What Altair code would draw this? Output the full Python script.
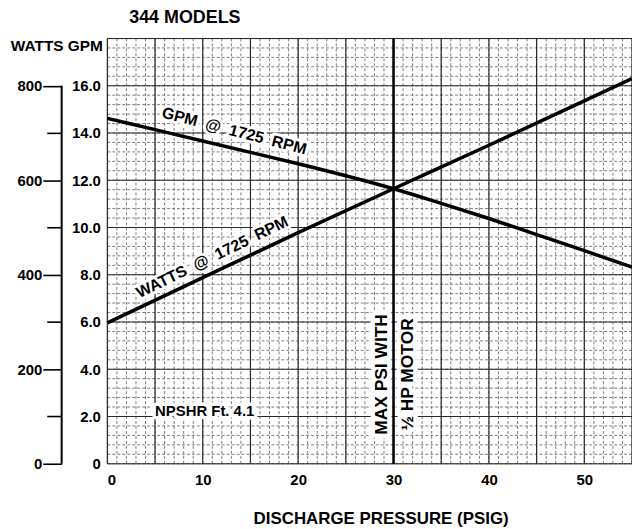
import altair as alt
import pandas as pd

# ---- data ----
gpm_pressure = [0, 5, 10, 15, 20, 25, 30, 35, 40, 45, 50, 55]
gpm_values = [14.62, 14.14, 13.66, 13.18, 12.70, 12.19, 11.64, 11.02, 10.38, 9.70, 9.02, 8.32]

watts_pressure = [0, 10, 20, 30, 40, 50, 55]
watts_values = [298, 394, 489, 582, 674, 768, 815]

max_psi = 30

x_ticks = [0, 10, 20, 30, 40, 50]
gpm_ticks = [0, 2, 4, 6, 8, 10, 12, 14, 16]
watts_major_ticks = [0, 200, 400, 600, 800]
watts_minor_ticks = [100, 300, 500, 700]

minor_x = list(range(0, 56))
major_x = list(range(0, 56, 5))
minor_y = [round(i * 0.4, 1) for i in range(0, 46)]
major_y = list(range(0, 19, 2))

S = "\u00a0\u00a0"
ann_text = ["GPM" + S + "@" + S + "1725" + S + "RPM",
            "WATTS" + S + "@" + S + "1725" + S + "RPM",
            "MAX PSI WITH", "½ HP MOTOR", "NPSHR Ft. 4.1"]
ann_x = [13.3, 11.0, 28.75, 31.55, 10.2]
ann_y = [14.08, 8.74, 3.78, 3.78, 2.23]

FONT = "Liberation Sans"

xs = alt.Scale(domain=[0, 55], nice=False, zero=False)
ys = alt.Scale(domain=[0, 18], nice=False, zero=False)
ws = alt.Scale(domain=[0, 900], nice=False, zero=False)

x_axis = alt.Axis(
    values=x_ticks, ticks=False, domain=False, grid=False,
    labelFont=FONT, labelFontWeight="bold", labelFontSize=15, labelColor="black",
    labelPadding=9,
    title="DISCHARGE PRESSURE (PSIG)", titleFont=FONT, titleFontWeight="bold",
    titleFontSize=17, titleColor="black", titlePadding=23, titleX=275,
)


def X(field):
    return alt.X(field, scale=xs, axis=x_axis)


def vrules(vals, color, width, dash):
    return alt.Chart(pd.DataFrame({"p": vals})).mark_rule(
        color=color, strokeWidth=width, strokeDash=dash
    ).encode(x=X("p:Q"))


def hrules(vals, color, width, dash):
    return alt.Chart(pd.DataFrame({"g": vals})).mark_rule(
        color=color, strokeWidth=width, strokeDash=dash
    ).encode(y=alt.Y("g:Q", scale=ys, axis=None))


minor_v = vrules(minor_x, "#6e6e6e", 0.9, [3, 2])
minor_h = hrules(minor_y, "#6e6e6e", 0.9, [3, 2])
major_v = vrules(major_x, "#2a2a2a", 1.2, [1, 0])
major_h = hrules(major_y, "#2a2a2a", 1.2, [1, 0])

gpm_df = pd.DataFrame({"p": gpm_pressure, "g": gpm_values})
gpm_line = alt.Chart(gpm_df).mark_line(
    color="black", strokeWidth=3.5, interpolate="monotone"
).encode(
    x=X("p:Q"),
    y=alt.Y(
        "g:Q", scale=ys,
        axis=alt.Axis(
            values=gpm_ticks, ticks=False, domain=False, grid=False,
            labelExpr="datum.value == 0 ? '0' : format(datum.value, '.1f')",
            labelFont=FONT, labelFontWeight="bold", labelFontSize=15, labelColor="black",
            labelPadding=7,
            title="WATTS GPM", titleAngle=0, titleAlign="right", titleBaseline="middle",
            titleX=-5, titleY=7, titleFont=FONT, titleFontWeight="bold",
            titleFontSize=15.5, titleColor="black",
        ),
    ),
)

max_rule = alt.Chart(pd.DataFrame({"p": [max_psi]})).mark_rule(
    color="black", strokeWidth=2.5
).encode(x=X("p:Q"))


def annotation(i, angle, size, halo):
    df = pd.DataFrame({"t": [ann_text[i]], "x": [ann_x[i]], "y": [ann_y[i]]})
    base = alt.Chart(df).encode(
        x=X("x:Q"),
        y=alt.Y("y:Q", scale=ys, axis=None),
        text="t:N",
    )
    back = base.mark_text(
        angle=angle, fontSize=size, font=FONT, fontWeight="bold",
        fill="white", stroke="white", strokeWidth=halo, strokeJoin="round",
        align="center", baseline="middle",
    )
    front = base.mark_text(
        angle=angle, fontSize=size, font=FONT, fontWeight="bold", color="black",
        align="center", baseline="middle",
    )
    return [back, front]


texts = []
texts += annotation(0, 14.5, 16, 6)
texts += annotation(1, 334, 16, 6)
texts += annotation(2, 270, 17.5, 9)
texts += annotation(3, 270, 17.5, 9)
texts += annotation(4, 0, 15, 7)

watts_df = pd.DataFrame({"p": watts_pressure, "w": watts_values})
watts_line = alt.Chart(watts_df).mark_line(
    color="black", strokeWidth=3.5, interpolate="monotone"
).encode(
    x=X("p:Q"),
    y=alt.Y(
        "w:Q", scale=ws,
        axis=alt.Axis(
            orient="left", offset=46, values=watts_major_ticks, domain=False, grid=False,
            tickSize=19, tickWidth=1.6, tickColor="black",
            labelFont=FONT, labelFontWeight="bold", labelFontSize=15, labelColor="black",
            labelPadding=1, title=None,
        ),
    ),
)

watts_axis_line = alt.Chart(
    pd.DataFrame({"lo": [watts_major_ticks[0]], "hi": [watts_major_ticks[-1]]})
).mark_rule(color="black", strokeWidth=2).encode(
    x=alt.value(-46),
    y=alt.Y(
        "lo:Q", scale=ws,
        axis=alt.Axis(
            orient="left", offset=46, values=watts_minor_ticks, domain=False, grid=False,
            tickSize=15, tickWidth=1.6, tickColor="black", labels=False, title=None,
        ),
    ),
    y2="hi:Q",
)

chart = alt.layer(
    minor_v, minor_h, major_v, major_h, *texts, max_rule, gpm_line,
    watts_line, watts_axis_line,
).resolve_scale(y="independent").properties(
    width=528,
    height=428,
    padding={"left": 100, "top": 29, "right": 0, "bottom": 64},
    autosize=alt.AutoSizeParams(type="none"),
    title=alt.Title(
        "344 MODELS", anchor="start", frame="group", dx=22, offset=10,
        font=FONT, fontWeight="bold", fontSize=18, color="black",
    ),
).configure_view(stroke=None).configure(background="white")

chart.save("out.html", embed_options={"renderer": "svg", "actions": False})
